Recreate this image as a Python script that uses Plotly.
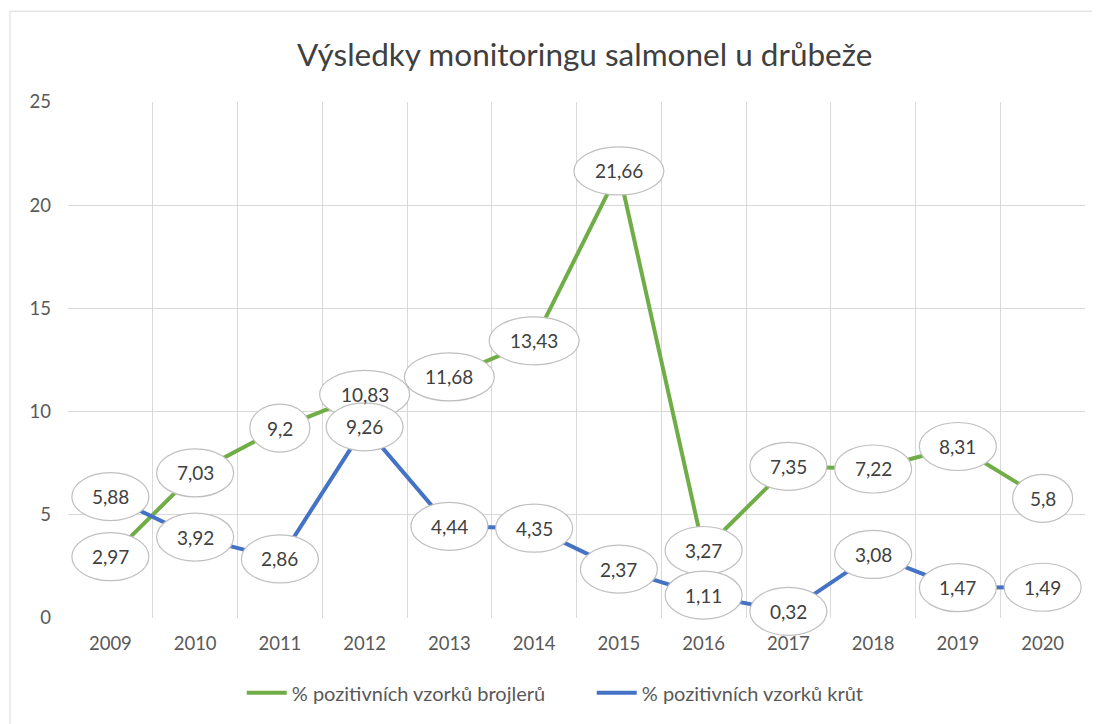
import plotly.graph_objects as go

years = ["2009", "2010", "2011", "2012", "2013", "2014", "2015", "2016", "2017", "2018", "2019", "2020"]
broilers = [2.97, 7.03, 9.2, 10.83, 11.68, 13.43, 21.66, 3.27, 7.35, 7.22, 8.31, 5.8]
turkeys = [5.88, 3.92, 2.86, 9.26, 4.44, 4.35, 2.37, 1.11, 0.32, 3.08, 1.47, 1.49]
name_b = "% pozitivních vzorků brojlerů"
name_t = "% pozitivních vzorků krůt"
title = "Výsledky monitoringu salmonel u drůbeže"

GREEN = "#70AD47"
BLUE = "#4472C4"
FONT = "Lato"
YMIN, YMAX = 0, 25

def fmt(v):
    return ("%g" % v).replace(".", ",")

fig = go.Figure()
fig.add_trace(go.Scatter(x=years, y=broilers, mode="lines", name=name_b,
                         line=dict(color=GREEN, width=4)))
fig.add_trace(go.Scatter(x=years, y=turkeys, mode="lines", name=name_t,
                         line=dict(color=BLUE, width=4)))

shapes = []
annotations = []
for series in (broilers, turkeys):
    for i, v in enumerate(series):
        txt = fmt(v)
        n = len(txt)
        hw = {3: 30, 4: 38.5, 5: 45}.get(n, 40)
        shapes.append(dict(type="circle", xref="x", yref="paper",
                           xsizemode="pixel", ysizemode="pixel",
                           xanchor=i, yanchor=(v - YMIN) / (YMAX - YMIN),
                           x0=-hw, x1=hw, y0=-24, y1=24,
                           fillcolor="white", line=dict(color="#bfbfbf", width=1.2),
                           layer="above"))
        annotations.append(dict(x=i, y=v, xref="x", yref="y", text=txt,
                                showarrow=False,
                                font=dict(family=FONT, size=19, color="#404040")))

# outer chart frame
shapes.append(dict(type="rect", xref="paper", yref="paper",
                   x0=-0.057, x1=1.05, y0=-0.3, y1=1.176,
                   line=dict(color="#d9d9d9", width=1), fillcolor="rgba(0,0,0,0)",
                   layer="below"))

fig.update_layout(
    width=1092, height=716,
    margin=dict(l=60, r=15, t=94, b=106),
    paper_bgcolor="white", plot_bgcolor="white",
    title=dict(text=title, xref="paper", x=0.508, xanchor="center", y=0.935, yanchor="middle",
               font=dict(family=FONT, size=31.5, color="#404040")),
    xaxis=dict(type="category", range=[-0.5, 11.5], tickson="boundaries",
               showgrid=True, gridcolor="#d9d9d9", gridwidth=1,
               ticks="", showline=False, zeroline=False,
               ticklabelstandoff=12,
               tickfont=dict(family=FONT, size=18.5, color="#595959")),
    yaxis=dict(range=[YMIN, YMAX], dtick=5, showgrid=True, gridcolor="#d9d9d9",
               gridwidth=1, zeroline=False, showline=False, ticks="",
               ticklabelstandoff=16,
               tickfont=dict(family=FONT, size=18.5, color="#595959")),
    legend=dict(orientation="h", x=0.515, xanchor="center", y=-0.145, yanchor="middle",
                font=dict(family=FONT, size=20, color="#595959"),
                entrywidth=295, itemwidth=40, tracegroupgap=0),
    shapes=shapes, annotations=annotations,
)

fig.write_html("out.html")
